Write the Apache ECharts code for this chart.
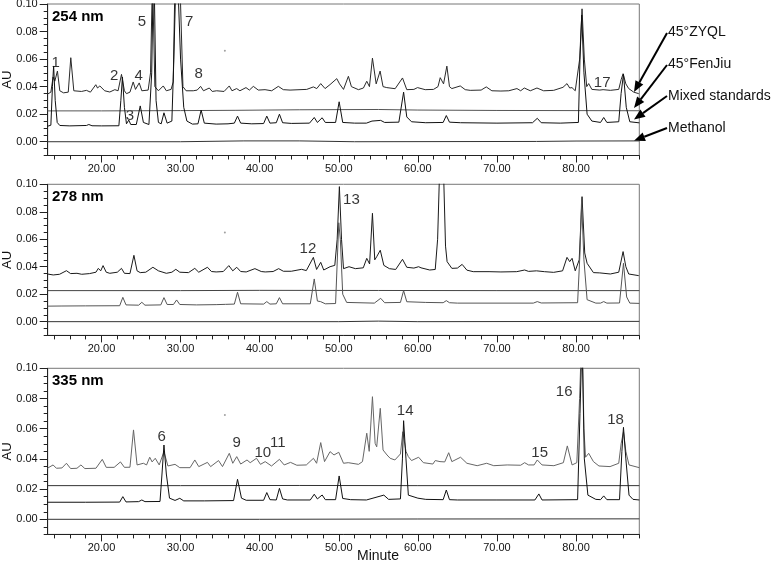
<!DOCTYPE html>
<html>
<head>
<meta charset="utf-8">
<script src="https://cdn.jsdelivr.net/npm/echarts@6/dist/echarts.min.js"></script>
<style>
  html, body { margin: 0; background: #fff; }
  #chart { width: 776px; height: 566px; }
</style>
</head>
<body>
<div id="chart"></div>
<script>
// ---- 254 nm traces [minute, AU] ----
const zyql254 = [[13.16,0.0345],[13.6,0.036],[13.88,0.047],[14.1,0.044],[14.43,0.0513],[14.73,0.037],[15.2,0.0355],[15.8,0.036],[16.12,0.061],[16.5,0.037],[17.47,0.0365],[18.1,0.0373],[18.6,0.036],[19.28,0.0414],[19.5,0.039],[19.79,0.0405],[20.4,0.037],[21.05,0.0361],[21.69,0.0378],[22.1,0.037],[22.53,0.0489],[22.9,0.037],[23.16,0.0349],[23.6,0.036],[24.01,0.0434],[24.3,0.038],[24.77,0.0427],[25.1,0.037],[25.9,0.0375],[26.2,0.05],[26.45,0.12],[26.75,0.04],[27.2,0.037],[27.81,0.0405],[28.2,0.037],[28.8,0.038],[29.07,0.0434],[29.3,0.12],[29.9,0.12],[30.3,0.04],[30.7,0.037],[31.6,0.037],[32.1,0.0375],[32.53,0.0402],[32.9,0.037],[33.63,0.039],[34.0,0.0365],[34.56,0.037],[35.5,0.0365],[36.16,0.0405],[36.5,0.037],[37.09,0.0386],[37.5,0.037],[38.27,0.0393],[38.7,0.0375],[39.2,0.0402],[39.83,0.0375],[40.68,0.0378],[41.52,0.037],[42.36,0.0402],[42.99,0.0378],[43.84,0.0375],[45.1,0.0378],[45.95,0.038],[46.79,0.0398],[47.22,0.0386],[47.72,0.0422],[48.27,0.0386],[48.9,0.0415],[49.75,0.0458],[50.1,0.042],[50.6,0.038],[51.22,0.0475],[51.6,0.04],[52.49,0.0378],[53.12,0.039],[53.54,0.0439],[53.88,0.04],[54.26,0.0607],[54.73,0.042],[55.23,0.0513],[55.6,0.04],[56.07,0.0393],[57.13,0.0385],[58.06,0.0463],[58.6,0.0378],[59.5,0.038],[59.96,0.0393],[60.93,0.0378],[61.98,0.038],[62.55,0.04],[62.83,0.0465],[63.25,0.042],[63.67,0.0549],[64.0,0.04],[64.3,0.0386],[65.36,0.0405],[65.99,0.0378],[66.62,0.0373],[68.0,0.0375],[68.65,0.0398],[69.36,0.037],[70.5,0.0368],[71.5,0.037],[72.53,0.0386],[73.0,0.037],[73.46,0.039],[74.22,0.037],[75.06,0.039],[75.9,0.037],[77.17,0.0373],[78.35,0.0395],[78.86,0.0422],[79.2,0.039],[79.49,0.0393],[79.9,0.037],[80.46,0.06],[80.76,0.0965],[81.05,0.06],[81.35,0.04],[81.6,0.0422],[82.0,0.038],[82.24,0.0386],[83.0,0.0375],[83.42,0.0378],[84.34,0.0373],[85.4,0.038],[85.7,0.045],[85.95,0.0494],[86.3,0.042],[86.66,0.0386],[87.3,0.036],[87.93,0.0349]];
const fenjiu254 = [[13.16,0.0224],[20,0.0224],[30,0.0226],[37,0.0228],[45,0.0232],[55,0.0234],[60,0.023],[70,0.0227],[80,0.0226],[88,0.0225]];
const mix254 = [[13.16,0.0112],[13.6,0.012],[13.8,0.04],[13.95,0.055],[14.15,0.03],[14.4,0.014],[14.73,0.0118],[16,0.0115],[18.1,0.0118],[18.4,0.0125],[18.8,0.0116],[20,0.0115],[22.2,0.0116],[22.45,0.03],[22.65,0.047],[22.9,0.025],[23.16,0.013],[23.45,0.0157],[23.7,0.0125],[24.4,0.0125],[24.9,0.026],[25.3,0.014],[26.0,0.0125],[26.35,0.05],[26.6,0.14],[26.9,0.03],[27.2,0.014],[27.55,0.013],[27.9,0.021],[28.3,0.0135],[28.9,0.015],[29.15,0.06],[29.5,0.14],[30.0,0.06],[30.4,0.025],[30.8,0.015],[31.5,0.0128],[32.2,0.013],[32.6,0.023],[33.0,0.0135],[34.5,0.0128],[36.0,0.013],[36.8,0.0135],[37.2,0.0186],[37.6,0.0135],[39.0,0.013],[40.5,0.0132],[40.9,0.0186],[41.3,0.0135],[42.1,0.0138],[42.5,0.020],[42.9,0.0138],[44,0.0133],[46.3,0.0135],[46.9,0.0176],[47.3,0.014],[47.9,0.0174],[48.3,0.014],[49.6,0.014],[50.05,0.029],[50.5,0.014],[52,0.0135],[53.5,0.0135],[54.2,0.015],[55.3,0.0155],[55.8,0.014],[57.6,0.0142],[58.2,0.036],[58.6,0.018],[59.2,0.0145],[61,0.0138],[63.2,0.014],[63.6,0.019],[64.0,0.0142],[65.4,0.0138],[70,0.0135],[74.5,0.0138],[75.1,0.017],[75.6,0.0138],[78,0.0135],[80.3,0.014],[80.5,0.06],[80.72,0.092],[81.0,0.05],[81.4,0.02],[82,0.015],[83.1,0.014],[83.5,0.0176],[83.9,0.014],[85.4,0.0145],[85.7,0.035],[86.0,0.049],[86.35,0.025],[86.8,0.0145],[88,0.0137]];
const meoh254 = [[13.16,0.0],[30,0.0],[38,0.0006],[45,0.0006],[52,0.0],[75,0.0002],[80,0.0005],[88,0.0006]];

// ---- 278 nm traces ----
const zyql278 = [[13.16,0.0347],[13.9,0.034],[14.7,0.0345],[15.57,0.0371],[16.1,0.035],[16.9,0.0352],[17.5,0.0345],[18.5,0.035],[19.3,0.036],[19.6,0.0388],[19.9,0.037],[20.2,0.0408],[20.6,0.036],[21.05,0.0352],[22.0,0.036],[22.53,0.0388],[22.9,0.0352],[23.6,0.035],[24.1,0.0483],[24.5,0.037],[24.9,0.0357],[25.6,0.036],[26.5,0.0396],[27.2,0.037],[28.2,0.0352],[28.9,0.036],[29.4,0.0381],[29.9,0.036],[31.0,0.0357],[31.8,0.0388],[32.3,0.036],[33.4,0.0396],[33.9,0.0365],[34.5,0.0362],[35.4,0.0365],[36.1,0.0408],[36.6,0.037],[37.1,0.0396],[37.6,0.0365],[38.3,0.0362],[39.4,0.0386],[40.2,0.0365],[40.7,0.0362],[41.7,0.0365],[42.4,0.0386],[43.0,0.0367],[44.0,0.0367],[45.3,0.0381],[45.9,0.0372],[46.79,0.0468],[47.2,0.038],[47.72,0.0432],[48.1,0.0376],[48.9,0.04],[49.5,0.041],[49.8,0.06],[50.08,0.0983],[50.35,0.06],[50.6,0.0386],[51.3,0.04],[52.1,0.0386],[53.1,0.0392],[53.54,0.0461],[53.9,0.042],[54.26,0.0789],[54.55,0.045],[54.8,0.0473],[55.25,0.052],[55.7,0.041],[56.4,0.0386],[57.2,0.038],[58.06,0.0454],[58.6,0.0396],[59.5,0.039],[60.1,0.04],[60.4,0.0392],[60.6,0.04],[61.5,0.0376],[62.2,0.038],[62.5,0.06],[62.8,0.12],[63.2,0.12],[63.5,0.055],[63.7,0.0437],[64.3,0.0388],[65.0,0.039],[65.6,0.0417],[66.2,0.0375],[67.0,0.0364],[69.0,0.0364],[70.5,0.0362],[72.5,0.0364],[73.5,0.0376],[74.0,0.0366],[75.0,0.037],[76.0,0.0364],[77.17,0.0359],[78.3,0.037],[78.86,0.0468],[79.2,0.0437],[79.5,0.0461],[79.9,0.037],[80.4,0.045],[80.76,0.091],[81.1,0.05],[81.4,0.0425],[82.2,0.0357],[83.0,0.0355],[84.34,0.0347],[85.4,0.036],[85.95,0.051],[86.3,0.04],[86.66,0.0347],[87.93,0.0335]];
const fenjiu278 = [[13.16,0.0226],[30,0.0226],[40,0.0228],[55,0.0227],[70,0.0226],[88,0.0226]];
const mix278 = [[13.16,0.0113],[15,0.0114],[18,0.0115],[22.3,0.0116],[22.7,0.0177],[23.1,0.0122],[24.7,0.012],[25.1,0.0141],[25.5,0.012],[27.5,0.0122],[27.9,0.0175],[28.3,0.0125],[29.1,0.0125],[29.5,0.0158],[29.9,0.0125],[32,0.0122],[34.5,0.0124],[35.7,0.0126],[36.8,0.0128],[37.2,0.0214],[37.6,0.013],[40.5,0.0128],[40.9,0.0146],[41.3,0.0128],[42.1,0.013],[42.5,0.0175],[42.9,0.013],[46.4,0.013],[46.9,0.0311],[47.3,0.015],[47.7,0.0146],[48.3,0.013],[49.6,0.0132],[49.85,0.05],[50.0,0.072],[50.2,0.06],[50.5,0.02],[51.0,0.014],[54.5,0.0135],[55.3,0.017],[55.8,0.0138],[57.8,0.014],[58.2,0.0226],[58.6,0.0145],[61,0.014],[63.2,0.0138],[63.6,0.0153],[64.0,0.0138],[65,0.0135],[74.6,0.0135],[75.1,0.0146],[75.6,0.0136],[80.2,0.0138],[80.5,0.05],[80.7,0.088],[81.0,0.045],[81.4,0.016],[82.5,0.0135],[83.1,0.0135],[83.5,0.0146],[83.9,0.0135],[85.5,0.0136],[86.0,0.0425],[86.4,0.018],[86.8,0.0135],[88,0.0133]];
const meoh278 = [[13.16,0.0],[50,0.0],[55,0.0004],[60,0.0],[88,0.0002]];

// ---- 335 nm traces ----
const zyql335 = [[13.16,0.0338],[13.88,0.036],[14.3,0.0338],[15.0,0.034],[15.57,0.0371],[16.1,0.0336],[16.9,0.0338],[17.4,0.036],[17.9,0.0336],[19.3,0.0338],[20.1,0.0397],[20.6,0.0344],[21.6,0.0344],[22.4,0.038],[22.9,0.0344],[23.6,0.0345],[24.05,0.0592],[24.5,0.036],[25.3,0.0371],[25.7,0.036],[26.1,0.0411],[26.4,0.038],[26.8,0.0404],[27.3,0.036],[27.9,0.0448],[28.4,0.0353],[29.3,0.0364],[29.9,0.0342],[31.2,0.0342],[31.8,0.0393],[32.3,0.0349],[33.4,0.0377],[33.8,0.0349],[34.8,0.0389],[35.3,0.0349],[36.16,0.0437],[36.6,0.0371],[37.1,0.0415],[37.6,0.0366],[38.4,0.0393],[38.8,0.0375],[39.6,0.0404],[40.1,0.0364],[40.7,0.0382],[41.5,0.0353],[42.5,0.0397],[43.1,0.036],[43.9,0.0377],[44.7,0.0358],[45.9,0.036],[46.8,0.0404],[47.2,0.0371],[47.72,0.0508],[48.2,0.0382],[48.9,0.0448],[49.4,0.0426],[50.0,0.0444],[50.6,0.0371],[51.2,0.0375],[52.5,0.0364],[53.0,0.0382],[53.54,0.057],[53.85,0.045],[54.26,0.0812],[54.6,0.0503],[54.8,0.048],[55.25,0.0735],[55.6,0.0459],[56.1,0.0426],[56.5,0.0404],[57.1,0.0393],[57.8,0.0433],[58.1,0.058],[58.5,0.045],[58.8,0.0415],[59.2,0.0389],[60.1,0.0411],[60.7,0.0375],[61.9,0.0366],[62.2,0.0389],[62.8,0.0382],[63.4,0.038],[63.9,0.0441],[64.3,0.0382],[65.4,0.0411],[66.2,0.0371],[67.5,0.0355],[68.7,0.0371],[69.6,0.0355],[71.3,0.036],[73.0,0.0358],[73.5,0.0375],[74.0,0.036],[74.7,0.036],[75.1,0.0393],[75.7,0.036],[77.2,0.0355],[78.4,0.0375],[78.9,0.0486],[79.5,0.036],[80.1,0.0375],[80.45,0.08],[80.76,0.13],[81.0,0.06],[81.2,0.0411],[81.6,0.0437],[82.2,0.0382],[82.9,0.0353],[84.3,0.0349],[85.4,0.0371],[85.7,0.05],[86.0,0.058],[86.3,0.045],[86.7,0.036],[88,0.0342]];
const fenjiu335 = [[13.16,0.0223],[30,0.0223],[45,0.0224],[60,0.0223],[88,0.0223]];
const mix335 = [[13.16,0.0113],[18,0.0113],[22.3,0.0114],[22.7,0.015],[23.1,0.0115],[24.7,0.0117],[25.1,0.0128],[25.5,0.0117],[27.4,0.0118],[27.65,0.03],[27.9,0.0492],[28.2,0.03],[28.6,0.014],[29.3,0.0125],[29.9,0.0139],[30.4,0.0122],[33,0.0122],[36.7,0.0124],[37.2,0.0265],[37.7,0.014],[38.3,0.0126],[40.5,0.0126],[40.9,0.0177],[41.3,0.013],[42.1,0.0128],[42.5,0.0205],[42.9,0.0135],[43.5,0.0128],[46.4,0.0128],[46.9,0.0166],[47.3,0.0135],[47.9,0.0161],[48.3,0.013],[49.6,0.013],[50.05,0.0287],[50.5,0.0138],[51.5,0.013],[53.5,0.0128],[55.7,0.016],[56.3,0.0132],[57.8,0.0135],[58.05,0.04],[58.2,0.0653],[58.5,0.04],[58.8,0.016],[60,0.014],[61,0.0132],[63.2,0.013],[63.6,0.0194],[64.0,0.013],[65,0.0128],[70,0.0128],[74.8,0.0128],[75.3,0.0168],[75.7,0.0128],[80.2,0.013],[80.5,0.07],[80.76,0.12],[81.05,0.04],[81.5,0.016],[82.5,0.0132],[83.1,0.013],[83.5,0.0155],[83.9,0.013],[85.5,0.013],[85.8,0.045],[86.0,0.0609],[86.3,0.04],[86.7,0.016],[87.2,0.0132],[88,0.0128]];
const meoh335 = [[13.16,0.0],[40,0.0],[60,0.0002],[88,0.0003]];

// ---- peak numbers [text, minute, AU] ----
const peaks254 = [['1',14.2,0.057],['2',21.6,0.048],['3',23.6,0.019],['4',24.7,0.048],['5',25.1,0.087],['7',31.1,0.087],['8',32.3,0.049],['17',83.3,0.043]];
const peaks278 = [['12',46.1,0.053],['13',51.6,0.0885]];
const peaks335 = [['6',27.6,0.0545],['9',37.1,0.0505],['10',40.4,0.044],['11',42.3,0.0505],['14',58.4,0.072],['15',75.4,0.044],['16',78.5,0.0845],['18',85.0,0.066]];

// stray speck seen in every panel of the scan [minute, AU]
const specks = [[35.6,0.066],[35.6,0.065],[35.6,0.069]];

const sampleNames = ['45°ZYQL', '45°FenJiu', 'Mixed standards', 'Methanol'];
const xTickValues = [14,16,18,20,22,24,26,28,30,32,34,36,38,40,42,44,46,48,50,52,54,56,58,60,62,64,66,68,70,72,74,76,78,80,82,84,86,88];
const xLabelValues = [20,30,40,50,60,70,80];
const yLabelValues = [0,0.02,0.04,0.06,0.08,0.10];

const FONT = '"Liberation Sans", Arial, sans-serif';
const yMinorTicks = [];
for (let i = -2; i <= 20; i++) yMinorTicks.push(+(i * 0.005).toFixed(3));

const panels = [
  { top: 4, height: 151.5, title: '254 nm', traces: [zyql254, fenjiu254, mix254, meoh254], colors: ['#2a2a2a', '#555', '#111', '#333'], peaks: peaks254 },
  { top: 184.3, height: 151.1, title: '278 nm', traces: [zyql278, fenjiu278, mix278, meoh278], colors: ['#1a1a1a', '#444', '#555', '#333'], peaks: peaks278 },
  { top: 368.3, height: 166.1, title: '335 nm', traces: [zyql335, fenjiu335, mix335, meoh335], colors: ['#666', '#333', '#111', '#333'], peaks: peaks335 }
];

const chart = echarts.init(document.getElementById('chart'));

const grid = [], xAxis = [], yAxis = [], series = [], graphic = [];

panels.forEach((p, i) => {
  grid.push({
    left: 47.7, width: 591.6, top: p.top, height: p.height,
    outerBoundsMode: 'none', containLabel: false,
    show: true, borderColor: '#777', borderWidth: 1
  });

  xAxis.push({
    type: 'value', gridIndex: i, min: 13.2, max: 88, position: 'bottom',
    axisLine: { onZero: false, lineStyle: { color: '#222' } },
    axisTick: { customValues: xTickValues, length: 4, lineStyle: { color: '#222' } },
    axisLabel: { customValues: xLabelValues, formatter: v => v.toFixed(2), fontSize: 11, color: '#111', fontFamily: FONT, margin: 8 },
    splitLine: { show: false }
  });
  // longer ticks at labelled minutes
  xAxis.push({
    type: 'value', gridIndex: i, min: 13.2, max: 88, position: 'bottom',
    axisLine: { show: false, onZero: false },
    axisTick: { customValues: xLabelValues, length: 7, lineStyle: { color: '#222' } },
    axisLabel: { show: false }, splitLine: { show: false }
  });

  yAxis.push({
    type: 'value', gridIndex: i, min: -0.01, max: 0.10, position: 'left',
    axisLine: { onZero: false, lineStyle: { color: '#222' } },
    axisTick: { customValues: yMinorTicks, length: 4, lineStyle: { color: '#222' } },
    axisLabel: { customValues: yLabelValues, formatter: v => v.toFixed(2), fontSize: 11, color: '#111', fontFamily: FONT, margin: 10 },
    splitLine: { show: false }
  });
  yAxis.push({
    type: 'value', gridIndex: i, min: -0.01, max: 0.10, position: 'left',
    axisLine: { show: false, onZero: false },
    axisTick: { customValues: yLabelValues, length: 8, lineStyle: { color: '#222' } },
    axisLabel: { show: false }, splitLine: { show: false }
  });

  p.traces.forEach((data, k) => {
    series.push({
      name: sampleNames[k] + ' ' + p.title,
      type: 'line', xAxisIndex: i * 2, yAxisIndex: i * 2, data: data,
      symbol: 'none', clip: true, silent: true,
      lineStyle: { width: 1, color: p.colors[k] }
    });
  });

  series.push({
    type: 'scatter', xAxisIndex: i * 2, yAxisIndex: i * 2,
    data: p.peaks.map(d => [d[1], d[2], d[0]]),
    symbolSize: 1, itemStyle: { color: 'rgba(0,0,0,0)' }, silent: true,
    label: { show: true, position: 'inside', formatter: q => q.data[2], fontSize: 15, color: '#000', fontFamily: FONT }
  });

  series.push({
    type: 'scatter', xAxisIndex: i * 2, yAxisIndex: i * 2,
    data: [specks[i]], symbolSize: 2, silent: true, itemStyle: { color: '#888' }
  });

  graphic.push({
    type: 'text', left: 52, top: p.top + 5,
    style: { text: p.title, font: 'bold 15px ' + FONT, fill: '#000' }
  });
  // y axis title
  graphic.push({
    type: 'text', x: 7, y: p.top + p.height / 2, rotation: Math.PI / 2,
    style: { text: 'AU', font: '13px ' + FONT, fill: '#111', align: 'center', verticalAlign: 'middle' }
  });
});

graphic.push({ type: 'text', left: 357, top: 549, style: { text: 'Minute', font: '14px ' + FONT, fill: '#111' } });

// legend labels with arrows pointing at the trace ends of the top panel
const arrowSpecs = [
  [667, 33, 634, 92, 33],
  [667, 65, 634, 108, 65],
  [667, 96, 634, 119.5, 97],
  [667, 128, 634, 140.7, 129]
];
arrowSpecs.forEach((a, k) => {
  const [x1, y1, x2, y2, ty] = a;
  const dx = x2 - x1, dy = y2 - y1, len = Math.sqrt(dx * dx + dy * dy);
  const ux = dx / len, uy = dy / len;
  const bx = x2 - ux * 11, by = y2 - uy * 11;
  graphic.push({ type: 'line', shape: { x1: x1, y1: y1, x2: bx, y2: by }, style: { stroke: '#000', lineWidth: 2 } });
  graphic.push({
    type: 'polygon',
    shape: { points: [[x2, y2], [bx - uy * 4.5, by + ux * 4.5], [bx + uy * 4.5, by - ux * 4.5]] },
    style: { fill: '#000' }
  });
  graphic.push({ type: 'text', left: 668, top: ty - 8, style: { text: sampleNames[k], font: '14px ' + FONT, fill: '#111' } });
});

chart.setOption({
  animation: false,
  backgroundColor: '#fff',
  grid: grid,
  xAxis: xAxis,
  yAxis: yAxis,
  series: series,
  graphic: graphic
});
</script>
</body>
</html>
